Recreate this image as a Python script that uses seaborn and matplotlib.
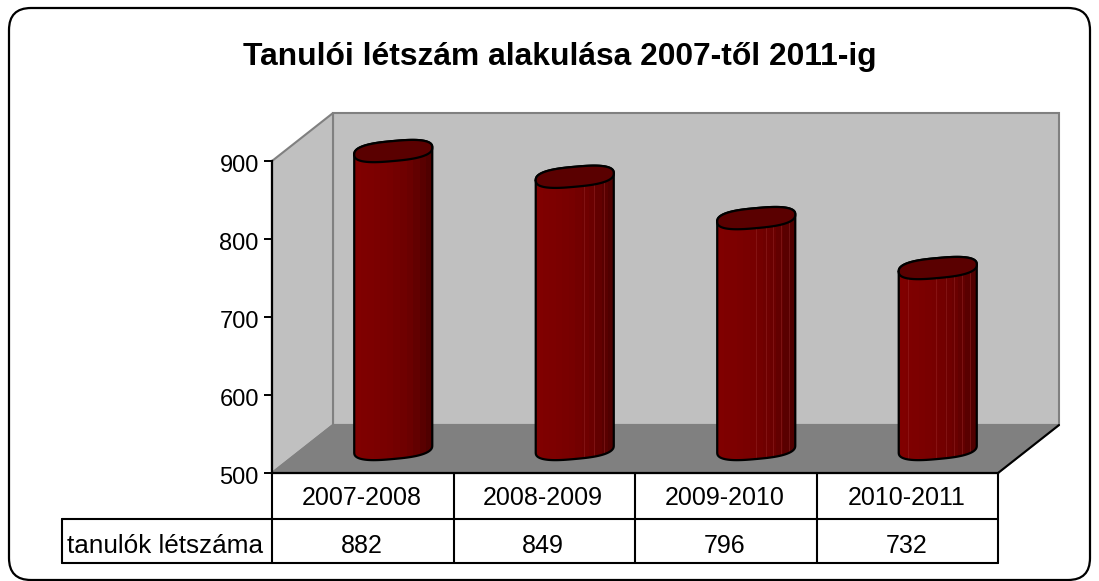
import numpy as np
import matplotlib
matplotlib.use("Agg")
import matplotlib.pyplot as plt
import seaborn as sns
from matplotlib.patches import Polygon, FancyBboxPatch
from matplotlib.path import Path
from matplotlib.colors import LinearSegmentedColormap
from matplotlib.transforms import IdentityTransform, ScaledTranslation

years = ["2007-2008", "2008-2009", "2009-2010", "2010-2011"]
students = [882, 849, 796, 732]
yticks = [500, 600, 700, 800, 900]
title = "Tanulói létszám alakulása 2007-től 2011-ig"
row_label = "tanulók létszáma"

W, H = 1099, 581
# front plane of the fake 3D box, in pixels
L, R, TOP, BOT = 272, 998, 161, 473
DX, DY = 61, 48

sns.set_theme(style="white")
plt.rcParams["font.family"] = ["Liberation Sans", "DejaVu Sans"]

fig = plt.figure(figsize=(W / 100, H / 100), dpi=100, facecolor="white")
ax = fig.add_axes([L / W, 1 - BOT / H, (R - L) / W, (BOT - TOP) / H])
ax.patch.set_visible(False)

sns.barplot(x=years, y=students, color="#800000", saturation=1, width=0.43, ax=ax, zorder=3)
bars = list(ax.patches)
ax.set_xlim(-0.5, 3.5)
ax.set_ylim(500, 900)
ax.set_yticks(yticks)
ax.set_xticks([])
ax.set_xlabel("")
ax.set_ylabel("")
ax.tick_params(axis="y", left=True, length=6, width=1.4, color="black", labelsize=17, labelcolor="black", pad=3.5)
for lab in ax.get_yticklabels():
    lab.set_transform(lab.get_transform() + ScaledTranslation(0, -3 / 100, fig.dpi_scale_trans))
for s in ["top", "right"]:
    ax.spines[s].set_visible(False)
for s in ["left", "bottom"]:
    ax.spines[s].set_color("black")
    ax.spines[s].set_linewidth(1.6)
    ax.spines[s].set_zorder(6)


def px(x, y):
    return (x, H - y)


pix = IdentityTransform()


def wall(points, face, zorder=1, edge="#808080"):
    ax.add_patch(Polygon([px(*p) for p in points], closed=True, facecolor=face, edgecolor=edge,
                         linewidth=1.5, transform=pix, clip_on=False, zorder=zorder))


# back wall, side wall, floor
wall([(L + DX, TOP - DY), (R + DX, TOP - DY), (R + DX, BOT - DY), (L + DX, BOT - DY)], "#c0c0c0")
wall([(L, TOP), (L + DX, TOP - DY), (L + DX, BOT - DY), (L, BOT)], "#c0c0c0")
wall([(L, BOT), (L + DX, BOT - DY), (R + DX, BOT - DY), (R, BOT)], "#808080")
ax.plot(*zip(px(R, BOT), px(R + DX, BOT - DY)), color="black", lw=1.5, transform=pix, clip_on=False, zorder=2)

# cylinders: bars are moved half the depth back, then rounded off
cmap = LinearSegmentedColormap.from_list("bar", ["#800000", "#7c0000", "#760000", "#6a0000", "#500000"])
streaks = {1: [0.62, 0.75, 0.88], 2: [0.5, 0.62, 0.72, 0.82, 0.92], 3: [0.12, 0.48, 0.61, 0.71, 0.81, 0.91]}
shift = ScaledTranslation(DX / 2 / 100, DY / 2 / 100, fig.dpi_scale_trans)
top_half = 10.0
tilt = 3.5


def cap(cx, cy, a, t):
    c, s = np.cos(t), np.sin(t)
    x = np.sign(c) * np.abs(c) ** 0.72 * a
    y = np.sign(s) * np.abs(s) ** 0.8 * top_half + tilt * x / a
    return np.column_stack([cx + x, cy + y])


for i, bar in enumerate(bars):
    value = bar.get_height()
    bar.set_y(500)
    bar.set_height(value - 500)
    bar.set_transform(ax.transData + shift)
    x0, y0 = (ax.transData + shift).transform((bar.get_x(), 500))
    x1, y1 = (ax.transData + shift).transform((bar.get_x() + bar.get_width(), value))
    cx, a = (x0 + x1) / 2, (x1 - x0) / 2

    upper = cap(cx, y1, a, np.linspace(np.pi, 0, 60))
    lower = cap(cx, y0, a, np.linspace(0, -np.pi, 60))
    outline = np.vstack([upper, lower, upper[:1]])
    body = Path(outline)
    bar.set_clip_path(body, pix)
    bar.set_clip_box(fig.bbox)

    im = ax.imshow(np.linspace(0, 1, 12)[None, :], cmap=cmap, aspect="auto", interpolation="nearest",
                   extent=(x0, x1, y0 - 15, y1 + 15), transform=pix, zorder=4)
    im.set_clip_path(body, pix)
    im.set_clip_box(fig.bbox)
    for f in streaks.get(i, []):
        ln, = ax.plot([x0 + f * (x1 - x0)] * 2, [y0 - 15, y1 + 15], color="#a03030", lw=0.7, alpha=0.4,
                      transform=pix, zorder=4.2)
        ln.set_clip_path(body, pix)
        ln.set_clip_box(fig.bbox)

    ax.plot(outline[:, 0], outline[:, 1], color="black", lw=1.6, transform=pix, clip_on=False, zorder=5)
    ring = cap(cx, y1, a, np.linspace(0, 2 * np.pi, 120))
    ax.add_patch(Polygon(ring, closed=True, facecolor="#5a0000", edgecolor="black", linewidth=1.6,
                         transform=pix, clip_on=False, zorder=5))

ax.set_xlim(-0.5, 3.5)
ax.set_ylim(500, 900)

# data table below the plot
ROW1, ROW2, LEFT = 519, 563, 62
edges = np.linspace(L, R, len(years) + 1)
for xp in edges:
    ax.plot(*zip(px(xp, BOT), px(xp, ROW2)), color="black", lw=1.5, transform=pix, clip_on=False, zorder=6)
ax.plot(*zip(px(LEFT, ROW1), px(LEFT, ROW2)), color="black", lw=1.5, transform=pix, clip_on=False, zorder=6)
ax.plot(*zip(px(LEFT, ROW1), px(R, ROW1)), color="black", lw=1.5, transform=pix, clip_on=False, zorder=6)
ax.plot(*zip(px(LEFT, ROW2), px(R, ROW2)), color="black", lw=1.5, transform=pix, clip_on=False, zorder=6)
for i, (yr, n) in enumerate(zip(years, students)):
    xc = (edges[i] + edges[i + 1]) / 2
    fig.text((xc - 1) / W, 1 - 505 / H, yr, ha="center", va="baseline", fontsize=18, color="black")
    fig.text((xc - 1) / W, 1 - 553 / H, str(n), ha="center", va="baseline", fontsize=18, color="black")
fig.text(67 / W, 1 - 553 / H, row_label, ha="left", va="baseline", fontsize=18.8, color="black")

fig.text(559.5 / W, 1 - 65 / H, title, ha="center", va="baseline", fontsize=22.9, fontweight="bold", color="black")

# rounded frame of the whole chart
fig.add_artist(FancyBboxPatch((30, 22), 1039, 530, boxstyle="round,pad=21,rounding_size=22",
                              facecolor="none", edgecolor="black", linewidth=1.6, transform=pix))

fig.savefig("out.png", dpi=100)
